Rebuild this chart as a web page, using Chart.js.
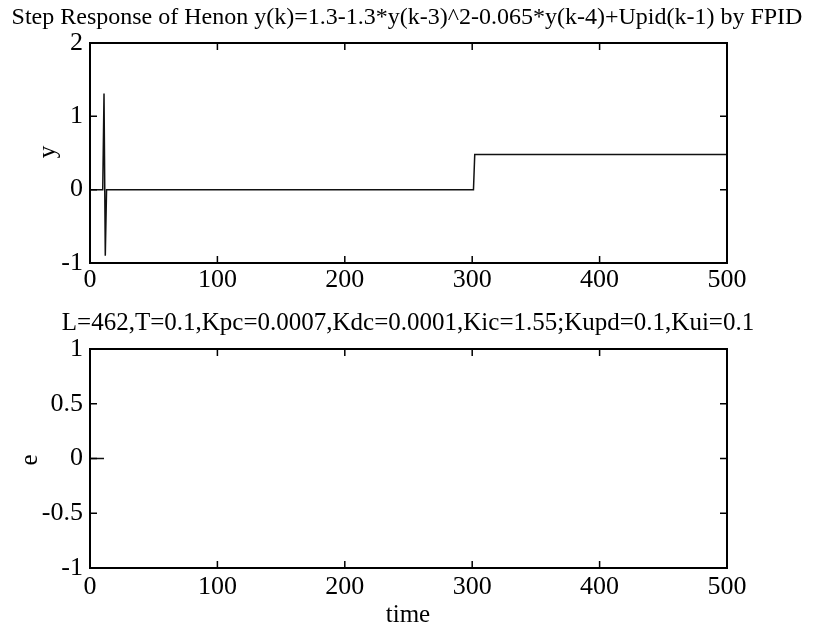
<!DOCTYPE html>
<html>
<head>
<meta charset="utf-8">
<script src="https://cdn.jsdelivr.net/npm/chart.js@4.4.1/dist/chart.umd.min.js"></script>
<style>
  html, body { margin: 0; padding: 0; background: #fff; font-family: "Liberation Serif", serif; }
  #wrap { position: relative; width: 813px; height: 628px; }
  .c { position: absolute; left: 0; }
</style>
</head>
<body>
<div id="wrap">
  <div class="c" style="top:0;width:813px;height:300px"><canvas id="c1"></canvas></div>
  <div class="c" style="top:300px;width:813px;height:328px"><canvas id="c2"></canvas></div>
</div>
<script>
// ---- data (turning points) ----
const kY = [0, 10, 11, 12, 13, 301, 302, 500];
const yVals = [0, 0, 1.31, -0.9, 0, 0, 0.48, 0.48];
const kE = [0, 11];
const eVals = [0, 0];
const xTicks = [0, 100, 200, 300, 400, 500];
const yTicksTop = [-1, 0, 1, 2];
const yTicksBottom = [-1, -0.5, 0, 0.5, 1];
const title1 = 'Step Response of Henon y(k)=1.3-1.3*y(k-3)^2-0.065*y(k-4)+Upid(k-1) by FPID';
const title2 = 'L=462,T=0.1,Kpc=0.0007,Kdc=0.0001,Kic=1.55;Kupd=0.1,Kui=0.1';

const FONT = 'Liberation Serif';
const TICK_FONT = { family: FONT, size: 26 };

function pts(xs, ys) { return xs.map((x, i) => ({ x: x, y: ys[i] })); }

function boxPlugin(texts) {
  return {
    id: 'boxTicks',
    afterDraw(chart) {
      const ctx = chart.ctx;
      const a = chart.chartArea;
      const xs = chart.scales.x, ys = chart.scales.y;
      ctx.save();
      ctx.strokeStyle = '#000';
      ctx.lineWidth = 2;
      ctx.strokeRect(a.left, a.top, a.right - a.left, a.bottom - a.top);
      ctx.lineWidth = 1.5;
      const L = 7;
      ctx.beginPath();
      xs.ticks.forEach(t => {
        const p = xs.getPixelForValue(t.value);
        ctx.moveTo(p, a.bottom); ctx.lineTo(p, a.bottom - L);
        ctx.moveTo(p, a.top); ctx.lineTo(p, a.top + L);
      });
      ys.ticks.forEach(t => {
        const p = ys.getPixelForValue(t.value);
        ctx.moveTo(a.left, p); ctx.lineTo(a.left + L, p);
        ctx.moveTo(a.right, p); ctx.lineTo(a.right - L, p);
      });
      ctx.stroke();
      ctx.fillStyle = '#000';
      ctx.textAlign = 'center';
      ctx.textBaseline = 'middle';
      texts.forEach(t => {
        ctx.save();
        ctx.font = t.size + 'px "' + FONT + '", serif';
        ctx.translate(t.x, t.y);
        if (t.rot) ctx.rotate(t.rot);
        ctx.fillText(t.text, 0, 0);
        ctx.restore();
      });
      ctx.restore();
    }
  };
}

function makeChart(id, xs, ys, yMin, yMax, yTicks, padding, texts) {
  return new Chart(document.getElementById(id), {
    type: 'line',
    data: {
      datasets: [{
        data: pts(xs, ys),
        borderColor: '#111',
        borderWidth: 1.5,
        pointRadius: 0,
        tension: 0,
        fill: false
      }]
    },
    options: {
      responsive: true,
      maintainAspectRatio: false,
      animation: false,
      layout: { padding: padding },
      plugins: { legend: { display: false }, tooltip: { enabled: false }, title: { display: false } },
      scales: {
        x: {
          type: 'linear', min: 0, max: 500,
          grid: { display: false, drawTicks: false }, border: { display: false },
          afterBuildTicks(s) { s.ticks = xTicks.map(v => ({ value: v })); },
          afterFit(s) { s.height = padding.axisH; },
          ticks: { font: TICK_FONT, color: '#000', padding: padding.tickPad, maxRotation: 0, autoSkip: false,
                   callback: v => String(v) }
        },
        y: {
          type: 'linear', min: yMin, max: yMax,
          grid: { display: false, drawTicks: false }, border: { display: false },
          afterBuildTicks(s) { s.ticks = yTicks.map(v => ({ value: v })); },
          afterFit(s) { s.width = 90; },
          ticks: { font: TICK_FONT, color: '#000', padding: 7, callback: v => String(v) }
        }
      }
    },
    plugins: [boxPlugin(texts)]
  });
}

function build() {
  makeChart('c1', kY, yVals, -1, 2, yTicksTop,
    { left: 0, right: 86, top: 43, bottom: 0, axisH: 37, tickPad: 2 },
    [
      { text: title1, x: 407, y: 18, size: 24 },
      { text: 'y', x: 48, y: 152, size: 25, rot: -Math.PI / 2 }
    ]);

  makeChart('c2', kE, eVals, -1, 1, yTicksBottom,
    { left: 0, right: 86, top: 49, bottom: 0, axisH: 60, tickPad: 4 },
    [
      { text: title2, x: 408, y: 23, size: 25 },
      { text: 'e', x: 30, y: 160, size: 25, rot: -Math.PI / 2 },
      { text: 'time', x: 408, y: 315, size: 25 }
    ]);
}

if (document.fonts && document.fonts.load) {
  Promise.all([
    document.fonts.load('24px "Liberation Serif"'),
    document.fonts.load('26px "Liberation Serif"')
  ]).then(build, build);
} else {
  build();
}
</script>
</body>
</html>
